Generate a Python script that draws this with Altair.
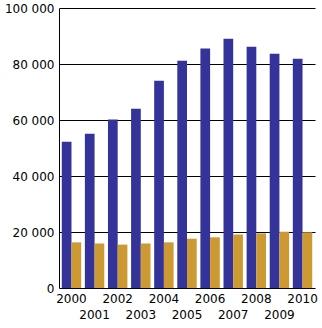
import altair as alt
import pandas as pd

years = [str(y) for y in range(2000, 2011)]
series_names = ["A", "B"]
series_a = [52200, 55100, 60200, 64000, 74000, 81200, 85500, 89000, 86200, 83700, 81900]
series_b = [16300, 15900, 15500, 15900, 16300, 17600, 18100, 19100, 19500, 20100, 19900]
y_ticks = [0, 20000, 40000, 60000, 80000, 100000]

rows = []
for i, yr in enumerate(years):
    rows.append({"year": yr, "series": series_names[0], "value": series_a[i]})
    rows.append({"year": yr, "series": series_names[1], "value": series_b[i]})
df = pd.DataFrame(rows)

font = "DejaVu Sans"

chart = alt.Chart(df).mark_bar().encode(
    x=alt.X(
        "year:N",
        sort=years,
        scale=alt.Scale(paddingInner=0.16, paddingOuter=0.12),
        axis=alt.Axis(
            title=None, labelAngle=0, domain=False, ticks=False,
            labelExpr="toNumber(datum.value) % 2 == 0 ? datum.label : ['', datum.label]",
            labelFont=font, labelFontSize=12, labelColor="black",
            labelPadding=5, labelLineHeight=16.5,
        ),
    ),
    xOffset=alt.XOffset("series:N", sort=series_names,
                        scale=alt.Scale(paddingInner=0, paddingOuter=0)),
    y=alt.Y(
        "value:Q",
        scale=alt.Scale(domain=[0, 100000], nice=False),
        axis=alt.Axis(
            title=None, values=y_ticks, grid=True, gridColor="black",
            gridOpacity=1, gridWidth=1, domain=True, domainColor="black",
            domainWidth=1, ticks=False,
            labelExpr="replace(format(datum.value, ','), ',', ' ')",
            labelFont=font, labelFontSize=12, labelColor="black",
            labelPadding=5,
        ),
    ),
    color=alt.Color("series:N", sort=series_names,
                    scale=alt.Scale(domain=series_names, range=["#333399", "#CC9933"]),
                    legend=None),
).properties(
    width=256, height=280,
    autosize="none",
    padding={"left": 59, "top": 8, "right": 7, "bottom": 40},
).configure_view(stroke=None)

chart.save("out.html", embed_options={"renderer": "svg", "actions": False})
